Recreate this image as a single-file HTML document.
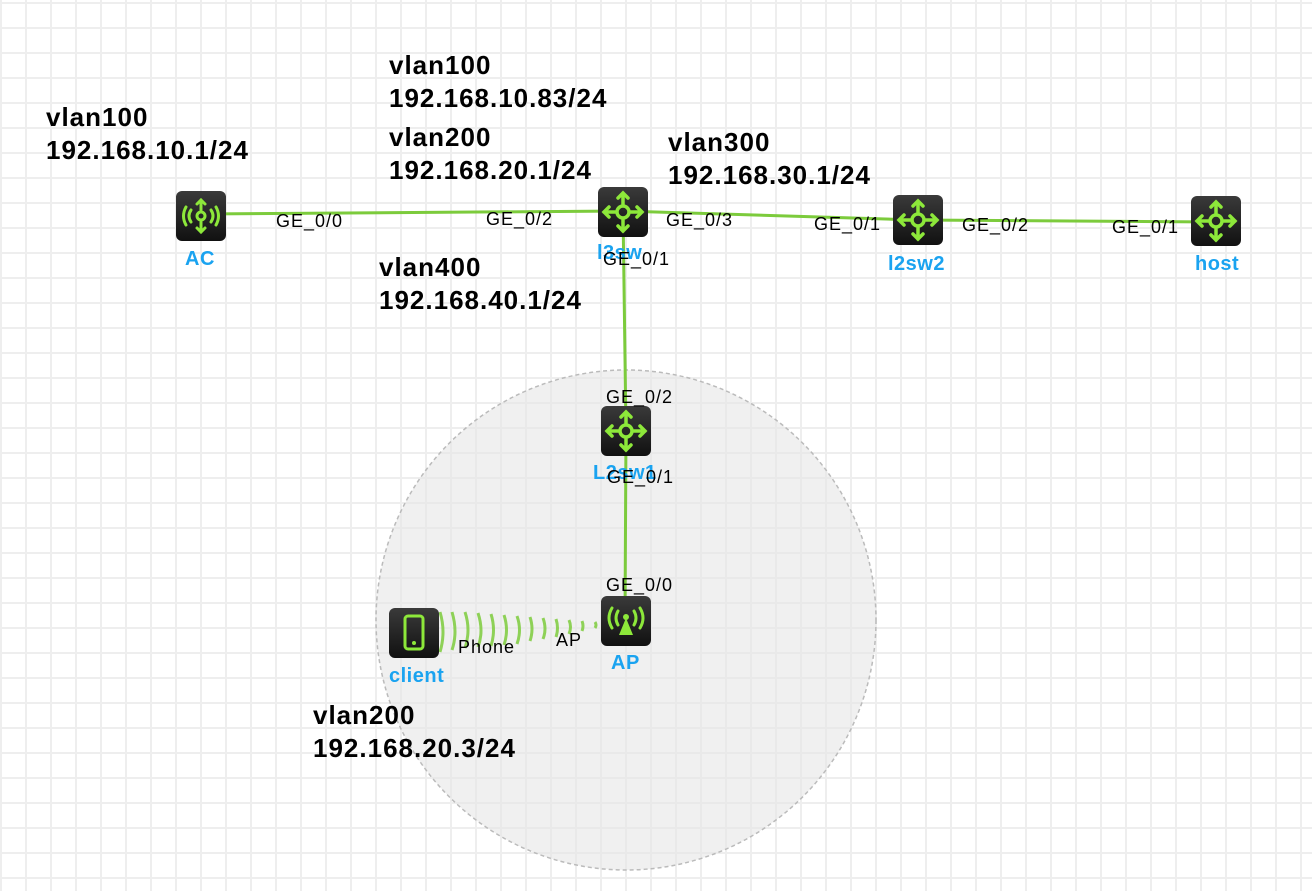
<!DOCTYPE html>
<html><head><style>
body{margin:0;width:1312px;height:891px;overflow:hidden;background:#fff;font-family:"Liberation Sans",sans-serif;}
.grid{position:absolute;left:0;top:0;width:1312px;height:891px;
background-image:linear-gradient(to right,#eeeeee 2px,transparent 2px),linear-gradient(to bottom,#eeeeee 2px,transparent 2px);
background-size:25px 25px;background-position:0px 2px;}
.t{position:absolute;font-size:18px;letter-spacing:1px;color:#000;white-space:nowrap}
.b{position:absolute;font-size:26px;letter-spacing:1px;font-weight:bold;color:#000;line-height:33px;white-space:nowrap}
.n{position:absolute;font-size:20px;letter-spacing:0.5px;font-weight:bold;color:#1aa3f0;white-space:nowrap}
</style></head><body>
<div class="grid"></div>
<svg width="1312" height="891" style="position:absolute;left:0;top:0">
<defs>
<linearGradient id="g" x1="0" y1="0" x2="0" y2="1"><stop offset="0" stop-color="#3a3a3a"/><stop offset="1" stop-color="#111"/></linearGradient>
<g id="sw"><rect x="-25" y="-25" width="50" height="50" rx="6" fill="url(#g)"/>
<g stroke="#8de83a" stroke-width="3.5" fill="none" stroke-linecap="round"><circle r="6"/><path d="M0-8V-19M0 8V19M-8 0H-19M8 0H19M-5-14L0-19 5-14M-5 14L0 19 5 14M-14-5L-19 0-14 5M14-5L19 0 14 5"/></g></g>
</defs>
<circle cx="626" cy="620" r="250" fill="#e6e6e6" fill-opacity="0.6" stroke="#bbb" stroke-width="1.5" stroke-dasharray="4,3"/>
<g stroke="#7ccb3c" stroke-width="3" fill="none">
<path d="M201 214L623 211L918 220L1216 222"/>
<path d="M623 211L626 431L625 620"/>
</g>
<g stroke="#7ccb3c" stroke-width="3" fill="none" opacity="0.85">
<path d="M440 612q6 20 0 40M452 612q6 20 0 38M465 612q6 18 0 36M478 613q6 18 0 34M491 614q5 16 0 32M504 615q5 15 0 30M517 616q5 14 0 28M530 617q4 12 0 24M543 618q4 11 0 21M556 619q3 9 0 18M569 620q3 7 0 14M582 621q2 5 0 10M595 622q2 3 0 6"/>
</g>
<use href="#sw" x="623" y="212"/>
<use href="#sw" x="918" y="220"/>
<use href="#sw" x="1216" y="221"/>
<use href="#sw" x="626" y="431"/>
<g transform="translate(201,216)"><rect x="-25" y="-25" width="50" height="50" rx="6" fill="url(#g)"/>
<g stroke="#8de83a" stroke-width="3" fill="none" stroke-linecap="round"><circle r="4"/><path d="M0-6V-16M0 6V16M-4-12L0-16 4-12M-4 12L0 16 4 12M-10-6Q-14 0-10 6M10-6Q14 0 10 6M-15-9Q-20 0-15 9M15-9Q20 0 15 9"/></g></g>
<g transform="translate(626,621)"><rect x="-25" y="-25" width="50" height="50" rx="6" fill="url(#g)"/>
<g stroke="#8de83a" stroke-width="3" fill="none" stroke-linecap="round"><path d="M-8-10Q-12-3-8 4M8-10Q12-3 8 4M-14-13Q-20-3-14 7M14-13Q20-3 14 7"/></g>
<circle cy="-4" r="3" fill="#8de83a"/><path d="M0-3L-7 14H7Z" fill="#8de83a"/></g>
<g transform="translate(414,633)"><rect x="-25" y="-25" width="50" height="50" rx="6" fill="url(#g)"/>
<rect x="-9" y="-17" width="18" height="33" rx="3" fill="none" stroke="#8de83a" stroke-width="3"/><circle cy="10" r="2" fill="#8de83a"/></g>
</svg>
<div class="b" style="left:46px;top:101px">vlan100<br>192.168.10.1/24</div>
<div class="b" style="left:389px;top:49px">vlan100<br>192.168.10.83/24</div>
<div class="b" style="left:389px;top:121px">vlan200<br>192.168.20.1/24</div>
<div class="b" style="left:668px;top:126px">vlan300<br>192.168.30.1/24</div>
<div class="b" style="left:379px;top:251px">vlan400<br>192.168.40.1/24</div>
<div class="b" style="left:313px;top:699px">vlan200<br>192.168.20.3/24</div>
<div class="n" style="left:185px;top:248px">AC</div>
<div class="n" style="left:597px;top:242px">l3sw</div>
<div class="n" style="left:888px;top:253px">l2sw2</div>
<div class="n" style="left:1195px;top:253px">host</div>
<div class="n" style="left:593px;top:462px">L2sw1</div>
<div class="n" style="left:611px;top:652px">AP</div>
<div class="n" style="left:389px;top:665px">client</div>
<div class="t" style="left:276px;top:211px">GE_0/0</div>
<div class="t" style="left:486px;top:209px">GE_0/2</div>
<div class="t" style="left:666px;top:210px">GE_0/3</div>
<div class="t" style="left:814px;top:214px">GE_0/1</div>
<div class="t" style="left:962px;top:215px">GE_0/2</div>
<div class="t" style="left:1112px;top:217px">GE_0/1</div>
<div class="t" style="left:603px;top:249px">GE_0/1</div>
<div class="t" style="left:606px;top:387px">GE_0/2</div>
<div class="t" style="left:607px;top:467px">GE_0/1</div>
<div class="t" style="left:606px;top:575px">GE_0/0</div>
<div class="t" style="left:458px;top:637px">Phone</div>
<div class="t" style="left:556px;top:630px">AP</div>
</body></html>
